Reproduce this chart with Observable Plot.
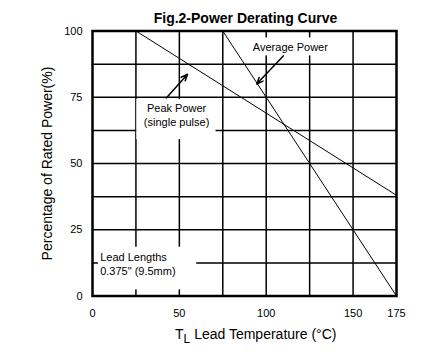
<!DOCTYPE html>
<html><head><meta charset="utf-8">
<script src="https://cdn.jsdelivr.net/npm/d3@7"></script>
<script src="https://cdn.jsdelivr.net/npm/@observablehq/plot@0.6"></script>
<style>body{margin:0;background:#fff}</style>
</head><body><div id="chart"></div>
<script>
const title = "Fig.2-Power Derating Curve";
const xLabelMain = "T";
const xLabelSub = "L";
const xLabel = "Lead Temperature (°C)";
const yLabel = "Percentage of Rated Power(%)";
const xTicks = [0, 50, 100, 150, 175];
const yTicks = [0, 25, 50, 75, 100];
const xGrid = [25, 50, 75, 100, 125, 150];
const yGrid = [12.5, 25, 37.5, 50, 62.5, 75, 87.5];
const peakTemp = [25, 175];
const peakPower = [100, 38];
const avgTemp = [75, 175];
const avgPower = [100, 0];
// annotations (data units)
const centerNotes = [
  {text: "Average Power", x: 113.9, y: 92.3},
  {text: "Peak Power\n(single pulse)", x: 48.4, y: 64.1}
];
const leftNotes = [
  {text: "Lead Lengths\n0.375\" (9.5mm)", x: 4.4, y: 7.9}
];
const boxes = [
  {x1: 90.7, x2: 137.1, y1: 90.6, y2: 97.4},
  {x1: 25.5, x2: 71.1, y1: 59.0, y2: 74.1},
  {x1: 3.4, x2: 60.0, y1: 2.3, y2: 18.4}
];
const arrows = [
  {x1: 109.8, y1: 90.6, x2: 94.5, y2: 80.0},
  {x1: 42.5, y1: 74.7, x2: 54.7, y2: 83.7}
];

const peak = peakTemp.map((t, i) => ({t, p: peakPower[i]}));
const avg = avgTemp.map((t, i) => ({t, p: avgPower[i]}));

const svg = Plot.plot({
  width: 429,
  height: 358,
  marginLeft: 92,
  marginRight: 33,
  marginTop: 30.5,
  marginBottom: 62.5,
  style: {fontFamily: "'Liberation Sans', Arial, Helvetica, sans-serif", fontSize: "11px", color: "black", background: "white"},
  x: {domain: [0, 175]},
  y: {domain: [0, 100]},
  marks: [
    Plot.ruleX(xGrid, {stroke: "black", strokeWidth: 1.5}),
    Plot.ruleY(yGrid, {stroke: "black", strokeWidth: 1.5}),
    Plot.rect(boxes, {x1: "x1", x2: "x2", y1: "y1", y2: "y2", fill: "white"}),
    Plot.line(peak, {x: "t", y: "p", stroke: "black", strokeWidth: 1}),
    Plot.line(avg, {x: "t", y: "p", stroke: "black", strokeWidth: 1}),
    Plot.frame({stroke: "black", strokeWidth: 2.5}),
    Plot.axisX(xTicks, {tickSize: 0, tickPadding: 13, label: null, fontSize: 11}),
    Plot.axisY(yTicks, {tickSize: 0, tickPadding: 10, label: null, fontSize: 11}),
    Plot.text(centerNotes, {x: "x", y: "y", text: "text", textAnchor: "middle", lineAnchor: "bottom", lineHeight: 1.3, fontSize: 11, fill: "black"}),
    Plot.text(leftNotes, {x: "x", y: "y", text: "text", textAnchor: "start", lineAnchor: "bottom", lineHeight: 1.3, fontSize: 11, fill: "black"}),
    Plot.arrow(arrows, {x1: "x1", y1: "y1", x2: "x2", y2: "y2", stroke: "black", strokeWidth: 1.5, headLength: 7, headAngle: 45}),
    Plot.text([title], {frameAnchor: "top", dx: 1, dy: -8.5, lineAnchor: "bottom", fontSize: 14, fontWeight: "bold", fill: "black"}),
    Plot.text([yLabel], {frameAnchor: "left", dx: -41, rotate: -90, lineAnchor: "bottom", textAnchor: "middle", fontSize: 14, fill: "black"}),
    Plot.text([xLabelMain], {frameAnchor: "bottom-left", dx: 82.5, dy: 43, textAnchor: "start", lineAnchor: "bottom", fontSize: 14, fill: "black"})
  ]
});

// turn the x label into "T" + subscript "L" + rest, as one text element
d3.select(svg).selectAll("text")
  .filter(function () { return this.textContent === xLabelMain && this.getAttribute("font-size") !== "11"; })
  .each(function () {
    const t = d3.select(this);
    t.text(null);
    t.append("tspan").text(xLabelMain);
    t.append("tspan").attr("font-size", 12).attr("dy", 4).text(xLabelSub);
    t.append("tspan").attr("dy", -4).text(" " + xLabel);
  });

document.getElementById("chart").appendChild(svg);
</script>
</body></html>
